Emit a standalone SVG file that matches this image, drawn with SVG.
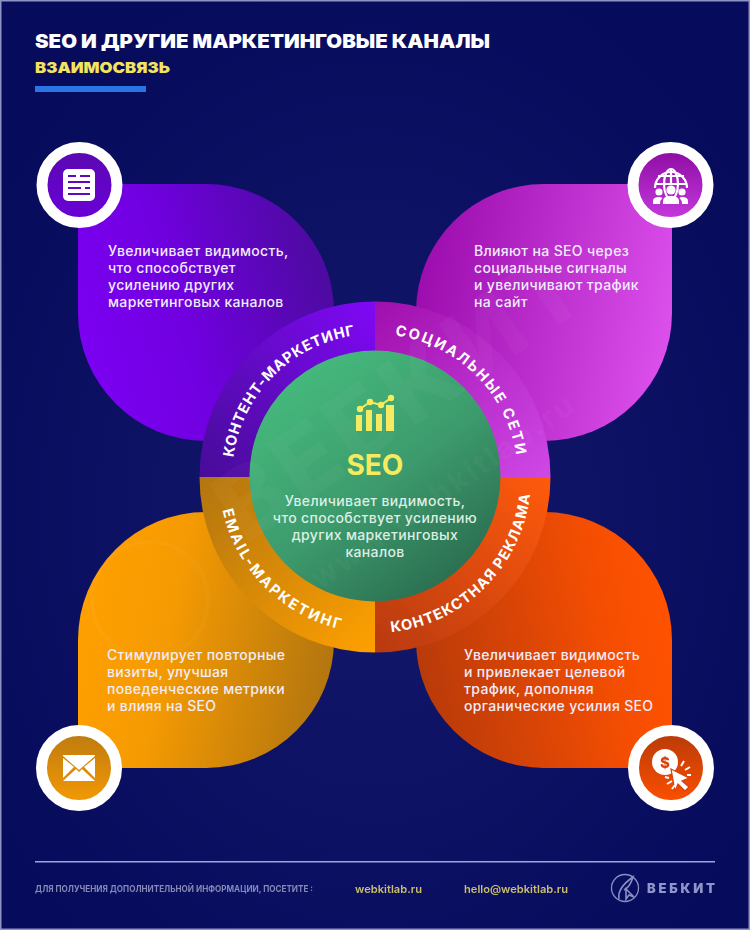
<svg xmlns="http://www.w3.org/2000/svg" width="750" height="930" viewBox="0 0 750 930">
<style>
.b{font-family:Inter,"Liberation Sans",sans-serif;font-weight:500;font-size:14px;letter-spacing:.35px;fill:#f1ecfb}
.c{font-family:Inter,"Liberation Sans",sans-serif;font-weight:500;font-size:14px;letter-spacing:.35px;fill:#dcefe4;text-anchor:middle}
.r{font-family:Inter,"Liberation Sans",sans-serif;font-weight:700;font-size:14.6px;fill:#fff;text-anchor:middle}
.w{fill:#fff}
.t{font-family:Inter,"Liberation Sans",sans-serif}
</style>
<defs>
<radialGradient id="bg" cx="50%" cy="55%" r="60%"><stop offset="0" stop-color="#15196c"/><stop offset="1" stop-color="#070b5c"/></radialGradient>
<linearGradient id="p1" x1="0" x2="1" y1="0.6" y2="0.3"><stop offset="0" stop-color="#7c00f2"/><stop offset="0.4" stop-color="#7000e0"/><stop offset="1" stop-color="#4b0b9c"/></linearGradient>
<linearGradient id="p2" x1="0" x2="1" y1="0.4" y2="0.6"><stop offset="0" stop-color="#9c0cae"/><stop offset="1" stop-color="#dc50ec"/></linearGradient>
<linearGradient id="p3" x1="0" x2="1" y1="0.4" y2="0.6"><stop offset="0" stop-color="#ffa000"/><stop offset="0.35" stop-color="#f59a02"/><stop offset="1" stop-color="#b2750f"/></linearGradient>
<linearGradient id="p4" x1="0" x2="1" y1="0.6" y2="0.4"><stop offset="0" stop-color="#b83a0a"/><stop offset="0.75" stop-color="#f54e02"/><stop offset="1" stop-color="#ff5200"/></linearGradient>
<linearGradient id="r1" x1="0" x2="1" y1="1" y2="0"><stop offset="0" stop-color="#470c98"/><stop offset="1" stop-color="#7f08f5"/></linearGradient>
<linearGradient id="r2" x1="0" x2="1" y1="0" y2="1"><stop offset="0" stop-color="#a00fae"/><stop offset="1" stop-color="#cf48e6"/></linearGradient>
<linearGradient id="r3" x1="0" x2="1" y1="0" y2="1"><stop offset="0" stop-color="#b2750f"/><stop offset="1" stop-color="#ffa000"/></linearGradient>
<linearGradient id="r4" x1="0" x2="1" y1="1" y2="0"><stop offset="0" stop-color="#b83a10"/><stop offset="1" stop-color="#ff5a0c"/></linearGradient>
<linearGradient id="g" x1="0.2" x2="0.8" y1="0.1" y2="0.9"><stop offset="0" stop-color="#45b87c"/><stop offset="0.55" stop-color="#3c9a6c"/><stop offset="1" stop-color="#2c7052"/></linearGradient>
<linearGradient id="i1" x1="0" x2="0" y1="0" y2="1"><stop offset="0" stop-color="#5a09b0"/><stop offset="1" stop-color="#6a00d8"/></linearGradient>
<linearGradient id="i2" x1="0" x2="0" y1="0" y2="1"><stop offset="0" stop-color="#8a0ba0"/><stop offset="1" stop-color="#c83ae0"/></linearGradient>
<linearGradient id="i3" x1="0" x2="0" y1="0" y2="1"><stop offset="0" stop-color="#bc7a10"/><stop offset="1" stop-color="#f59a04"/></linearGradient>
<linearGradient id="i4" x1="0" x2="0" y1="0" y2="1"><stop offset="0" stop-color="#b63a08"/><stop offset="1" stop-color="#ff5000"/></linearGradient>
<path id="a1" d="M232 477A143 143 0 0 1 375 334"/>
<path id="a2" d="M375 334A143 143 0 0 1 518 477"/>
<path id="a3" d="M219 477A156 156 0 0 0 375 633"/>
<path id="a4" d="M375 633A156 156 0 0 0 531 477"/>
</defs>
<rect width="750" height="930" fill="#8f93c4"/>
<rect x="1.5" y="1.5" width="747" height="927" fill="url(#bg)"/>

<g id="title">
<text class="t" x="35" y="48" font-size="19" font-weight="900" fill="#fff" textLength="455" lengthAdjust="spacingAndGlyphs">SEO И ДРУГИЕ МАРКЕТИНГОВЫЕ КАНАЛЫ</text>
<text class="t" x="35" y="73" font-size="15" font-weight="900" fill="#f4e35c" textLength="135" lengthAdjust="spacingAndGlyphs">ВЗАИМОСВЯЗЬ</text>
<rect x="35" y="86" width="111" height="6" fill="#2b74e4"/>
</g>

<g id="petal-content">
<path d="M78 184H206A128 128 0 0 1 334 312V441H206A128 128 0 0 1 78 313Z" fill="url(#p1)"/>
<text class="b"><tspan x="108" y="256">Увеличивает видимость,</tspan><tspan x="108" y="273">что способствует</tspan><tspan x="108" y="290">усилению других</tspan><tspan x="108" y="307">маркетинговых каналов</tspan></text>
</g>
<g id="petal-social">
<path d="M672 184H544A128 128 0 0 0 416 312V441H544A128 128 0 0 0 672 313Z" fill="url(#p2)"/>
<text class="b"><tspan x="474" y="256">Влияют на SEO через</tspan><tspan x="474" y="273">социальные сигналы</tspan><tspan x="474" y="290">и увеличивают трафик</tspan><tspan x="474" y="307">на сайт</tspan></text>
</g>
<g id="petal-email">
<path d="M78 768H206A128 128 0 0 0 334 640V512H206A128 128 0 0 0 78 640Z" fill="url(#p3)"/>
<text class="b"><tspan x="107" y="660">Стимулирует повторные</tspan><tspan x="107" y="677">визиты, улучшая</tspan><tspan x="107" y="694">поведенческие метрики</tspan><tspan x="107" y="711">и влияя на SEO</tspan></text>
</g>
<g id="petal-ads">
<path d="M672 768H544A128 128 0 0 1 416 640V512H544A128 128 0 0 1 672 640Z" fill="url(#p4)"/>
<text class="b"><tspan x="464" y="660">Увеличивает видимость</tspan><tspan x="464" y="677">и привлекает целевой</tspan><tspan x="464" y="694">трафик, дополняя</tspan><tspan x="464" y="711">органические усилия SEO</tspan></text>
</g>

<g id="ring">
<path d="M375 477V301.500A175.500 175.500 0 0 0 199.500 477Z" fill="url(#r1)"/>
<path d="M375 477V301.500A175.500 175.500 0 0 1 550.500 477Z" fill="url(#r2)"/>
<path d="M375 477V652.500A175.500 175.500 0 0 1 199.500 477Z" fill="url(#r3)"/>
<path d="M375 477V652.500A175.500 175.500 0 0 0 550.500 477Z" fill="url(#r4)"/>
<text class="r" letter-spacing="0.85"><textPath href="#a1" startOffset="50%">КОНТЕНТ-МАРКЕТИНГ</textPath></text>
<text class="r" letter-spacing="2.1"><textPath href="#a2" startOffset="50%">СОЦИАЛЬНЫЕ СЕТИ</textPath></text>
<text class="r" letter-spacing="2.2"><textPath href="#a3" startOffset="50%">EMAIL-МАРКЕТИНГ</textPath></text>
<text class="r" letter-spacing="1.1"><textPath href="#a4" startOffset="50%">КОНТЕКСТНАЯ РЕКЛАМА</textPath></text>
</g>

<g id="center">
<circle cx="375" cy="476" r="125.500" fill="url(#g)"/>
<g fill="#f6ea5e">
<rect x="356" y="415" width="6" height="16"/><rect x="366" y="410" width="6" height="21"/><rect x="376" y="414" width="6" height="17"/><rect x="386" y="405" width="8" height="26"/>
<path d="M360 409L370 402L381 405L391 398" fill="none" stroke="#f6ea5e" stroke-width="2"/>
<circle cx="360" cy="409" r="3.200"/><circle cx="370" cy="402" r="3.200"/><circle cx="381" cy="405" r="3.200"/><circle cx="391" cy="398" r="3.200"/>
</g>
<text class="t" x="375" y="475" font-size="28" font-weight="700" fill="#f6ea5e" text-anchor="middle">SEO</text>
<text class="c"><tspan x="375" y="506">Увеличивает видимость,</tspan><tspan x="375" y="523">что способствует усилению</tspan><tspan x="375" y="540">других маркетинговых</tspan><tspan x="375" y="557">каналов</tspan></text>
</g>

<g id="watermark" opacity="0.035" fill="#fff">
<text class="t" font-size="96" font-weight="800" letter-spacing="6" transform="translate(245 545) rotate(-35)">ВЕБКИТ</text>
<text class="t" font-size="30" font-weight="700" letter-spacing="3" transform="translate(320 590) rotate(-35)">www.webkitlab.ru</text>
<circle cx="150" cy="600" r="58" fill="none" stroke="#fff" stroke-width="4"/>
</g>

<g id="icon-content">
<circle cx="79.500" cy="185" r="37.500" fill="url(#i1)" stroke="#fff" stroke-width="11"/>
<rect x="63" y="169" width="32" height="32" rx="5" class="w"/>
<path d="M68 176H76M80 176H90M68 182H90M68 188H81M85 188H90M68 194H90" stroke="#5e09bb" stroke-width="1.800" fill="none"/>
</g>
<g id="icon-social">
<circle cx="670.500" cy="185" r="37.500" fill="url(#i2)" stroke="#fff" stroke-width="11"/>
<g fill="none" stroke="#fff" stroke-width="2.200">
<path d="M655 188A16 16 0 1 1 687 188"/>
<ellipse cx="671" cy="184" rx="7" ry="15"/>
<path d="M671 169V184M658 176H684M655 184H687"/>
</g>
<g class="w">
<circle cx="659" cy="192" r="3.600"/><circle cx="671" cy="190" r="4.600"/><circle cx="682" cy="192" r="3.600"/>
<path d="M653 204V201Q653 197 659 197Q661 197 662.500 198Q660 200 660 204Z"/>
<path d="M663 204V201Q663 196 671 196Q679 196 679 201V204Z"/>
<path d="M688 204V201Q688 197 682 197Q680 197 679.500 198Q682 200 682 204Z"/>
</g>
</g>
<g id="icon-email">
<circle cx="79" cy="768" r="37.500" fill="url(#i3)" stroke="#fff" stroke-width="11"/>
<g class="w">
<path d="M63 756L79 770L95 756V755H63Z"/>
<path d="M63 758V778L74 767Z"/><path d="M95 758V778L84 767Z"/>
<path d="M63 781H95L82 769L79 772L76 769Z"/>
</g>
</g>
<g id="icon-ads">
<circle cx="671" cy="768" r="37.500" fill="url(#i4)" stroke="#fff" stroke-width="11"/>
<circle cx="665" cy="762" r="13" class="w"/>
<text class="t" x="665" y="767.500" font-size="15" font-weight="800" fill="#d9420a" text-anchor="middle">$</text>
<path d="M671 769L689 778L682 781L689 787L685 791L678 784L675 791Z" class="w" stroke="#d9420a" stroke-width="1.200"/>
<path d="M681 766L684 761M685 770L690 767M687 775L691 775M672 781L667 784M675 785L672 789M669 778L665 777" stroke="#fff" stroke-width="2" fill="none"/>
</g>

<g id="footer">
<rect x="35" y="861" width="680" height="1.500" fill="#9ea4e4"/>
<text class="t" x="35" y="892" font-size="9" font-weight="700" fill="#8489b6" textLength="278" lengthAdjust="spacingAndGlyphs">ДЛЯ ПОЛУЧЕНИЯ ДОПОЛНИТЕЛЬНОЙ ИНФОРМАЦИИ, ПОСЕТИТЕ :</text>
<text class="t" x="355" y="893" font-size="11" font-weight="600" fill="#c9bf6c" textLength="67" lengthAdjust="spacingAndGlyphs">webkitlab.ru</text>
<text class="t" x="464" y="893" font-size="11" font-weight="600" fill="#c9bf6c" textLength="104" lengthAdjust="spacingAndGlyphs">hello@webkitlab.ru</text>
<circle cx="625" cy="888" r="13.500" fill="none" stroke="#8a90c4" stroke-width="1.300"/>
<path d="M619 899Q617 888 633 877Q630 887 624 890M626 889L634 897L629 895L626 899Z" fill="none" stroke="#8a90c4" stroke-width="1.600"/>
<text class="t" x="647" y="893" font-size="13" font-weight="900" fill="#8f95c8" textLength="68">ВЕБКИТ</text>
</g>
</svg>
